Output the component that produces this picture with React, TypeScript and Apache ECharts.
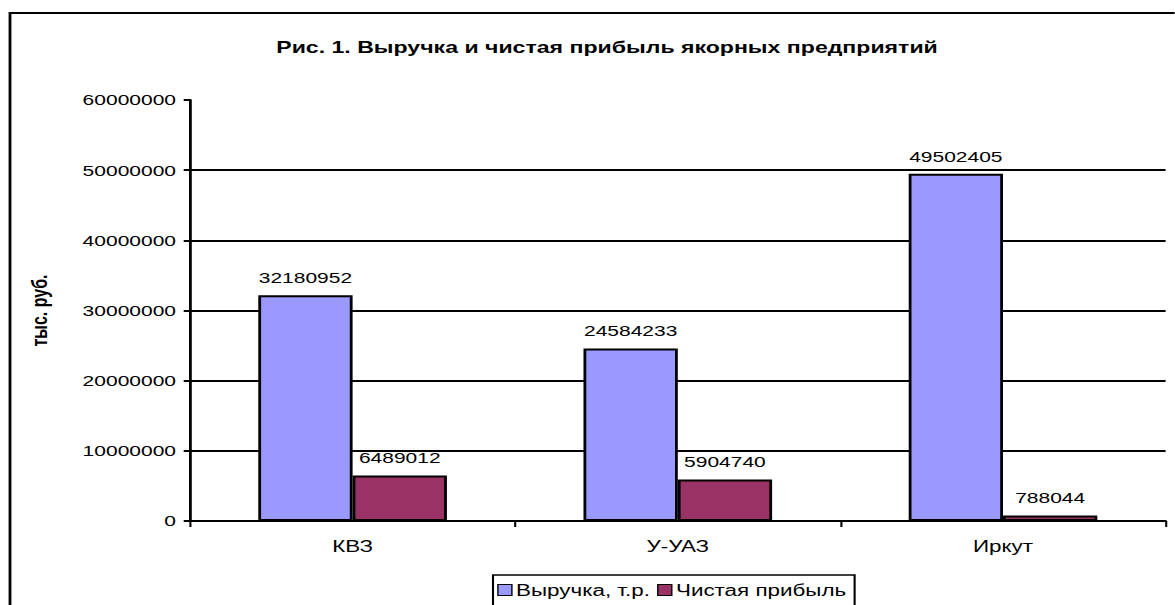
import React, { useEffect, useRef } from "react";
import * as echarts from "echarts";

const categories = ["КВЗ", "У-УАЗ", "Иркут"];
const revenue = [32180952, 24584233, 49502405];
const profit = [6489012, 5904740, 788044];
const gridValues = [10000000, 20000000, 30000000, 40000000, 50000000];
const seriesNames = ["Выручка, т.р.", "Чистая прибыль"];
const titleText = "Рис. 1. Выручка и чистая прибыль якорных предприятий";
const yAxisName = "тыс. руб.";

const FONT = "'Liberation Sans', Arial, sans-serif";
// the reference picture is stretched horizontally; draw narrower and scale
const S = 1.4;
const W = 1175 / S;
const H = 605;
const px = (x: number) => x / S;

export default function App() {
  const ref = useRef<HTMLDivElement>(null);
  useEffect(() => {
    if (!ref.current) return;
    const chart = echarts.init(ref.current, undefined, { renderer: "svg" });
    const label = {
      show: true,
      position: "top" as const,
      distance: 10,
      color: "#000",
      fontSize: 15,
      fontFamily: FONT,
    };
    chart.setOption({
      animation: false,
      backgroundColor: "#fff",
      textStyle: { fontFamily: FONT },
      title: {
        text: titleText,
        left: px(600),
        textAlign: "center",
        top: 34,
        textStyle: { fontSize: 16.5, fontWeight: "bold", color: "#000", fontFamily: FONT },
      },
      graphic: [
        {
          type: "rect",
          shape: { x: px(10), y: 13, width: 1300, height: 800 },
          style: { fill: "none", stroke: "#000", lineWidth: 2 },
          silent: true,
          z: 100,
        },
      ],
      legend: {
        left: px(493),
        top: 575,
        orient: "horizontal",
        data: seriesNames,
        icon: "rect",
        itemWidth: 10,
        itemHeight: 11,
        itemGap: 5,
        borderColor: "#000",
        borderWidth: 1.5,
        padding: [7, 6, 10, 3],
        textStyle: { fontSize: 16, color: "#000", fontFamily: FONT, padding: [0, 0, 0, -2] },
        itemStyle: { borderColor: "#000", borderWidth: 1 },
      },
      grid: { left: px(190), right: px(9), top: 100, bottom: 84, containLabel: false },
      xAxis: {
        type: "category",
        data: categories,
        axisLine: { lineStyle: { color: "#000", width: 2 } },
        axisTick: { show: true, length: 6, lineStyle: { color: "#000", width: 1.5 } },
        axisLabel: { color: "#000", fontSize: 16, margin: 17, fontFamily: FONT },
      },
      yAxis: {
        type: "value",
        min: 0,
        max: 60000000,
        interval: 10000000,
        name: yAxisName,
        nameLocation: "middle",
        nameRotate: 90,
        nameGap: 100,
        nameTextStyle: { fontSize: 16, fontWeight: "bold", color: "#000", fontFamily: FONT },
        axisLine: { show: true, lineStyle: { color: "#000", width: 2 } },
        axisTick: { show: true, inside: false, length: 4.5, lineStyle: { color: "#000", width: 2 } },
        axisLabel: {
          color: "#000",
          fontSize: 15,
          margin: 10,
          fontFamily: FONT,
          formatter: (v: number) => String(v),
        },
        splitLine: { show: false },
      },
      series: [
        {
          name: seriesNames[0],
          type: "bar",
          data: revenue,
          barGap: "0%",
          barCategoryGap: "42%",
          itemStyle: { color: "#9999FF", borderColor: "#000", borderWidth: 2 },
          label,
          markLine: {
            silent: true,
            symbol: "none",
            label: { show: false },
            lineStyle: { color: "#000", width: 2, type: "solid" },
            z: 1,
            data: gridValues.map((v) => ({ yAxis: v })),
          },
          z: 3,
        },
        {
          name: seriesNames[1],
          type: "bar",
          data: profit,
          itemStyle: { color: "#993366", borderColor: "#000", borderWidth: 2 },
          label,
          z: 3,
        },
      ],
    });
    return () => chart.dispose();
  }, []);
  return (
    <div
      ref={ref}
      style={{
        position: "fixed",
        left: 0,
        top: 0,
        width: W,
        height: H,
        transform: `scaleX(${S})`,
        transformOrigin: "0 0",
      }}
    />
  );
}
